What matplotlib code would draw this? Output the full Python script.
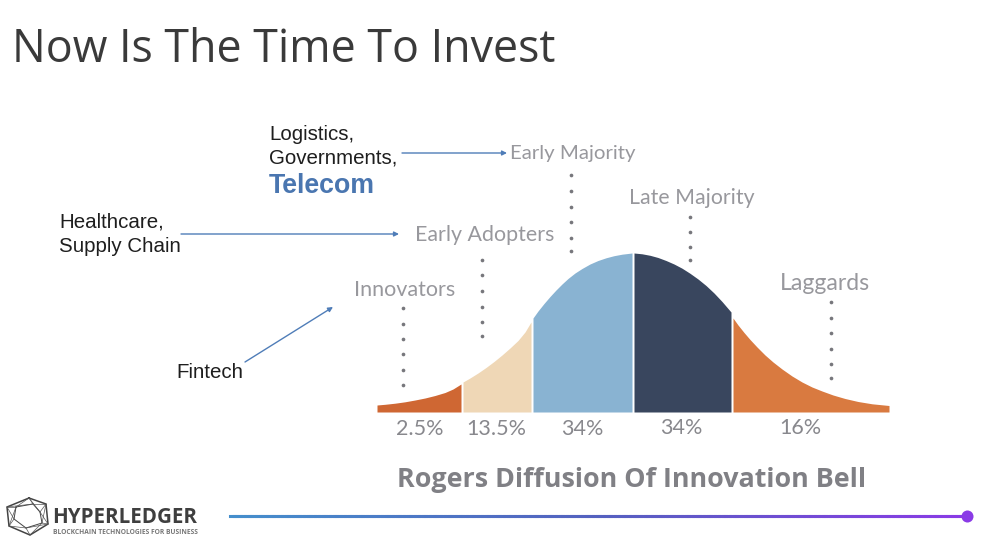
import matplotlib
matplotlib.use("Agg")
import matplotlib.pyplot as plt
import numpy as np
from matplotlib.collections import LineCollection
from matplotlib.patches import FancyArrowPatch

TITLE = "Now Is The Time To Invest"
CHART_TITLE = "Rogers Diffusion Of Innovation Bell"
BASE_Y = 412

seg_x = [
    [377, 385, 395, 405, 415, 425, 435, 445, 453, 461],
    [463, 470, 478, 486, 494, 502, 510, 518, 525, 531],
    [533, 538, 544, 550, 556, 562, 568, 575, 582, 590, 598, 606, 614, 622, 632],
    [634, 642, 650, 658, 666, 674, 682, 690, 698, 706, 714, 722, 731],
    [733, 738, 744, 750, 757, 765, 773, 782, 792, 802, 812, 822, 833, 845, 858, 872, 889],
]
seg_y = [
    [405, 404.3, 403.2, 401.8, 400, 398, 395.5, 392.5, 389, 384],
    [382, 378, 373, 367.5, 361.5, 355, 348, 340.5, 332, 322],
    [318, 311, 303.5, 296.5, 290, 284, 278.5, 273, 268.5, 264, 260.5, 257.8, 255.7, 254.2, 253],
    [253, 253.8, 255.3, 257.5, 260.5, 264, 268.2, 273.3, 279, 285.5, 293, 301.5, 312],
    [318, 325, 332.5, 339.5, 347, 355, 362, 369, 376, 382, 387, 391, 395, 398.5, 401.5, 403.8, 405.5],
]
seg_colors = ["#CF6733", "#EFD7B6", "#89B3D2", "#39465E", "#D97A40"]

pct_labels = ["2.5%", "13.5%", "34%", "34%", "16%"]
pct_x = [420, 496, 582, 681, 800]
pct_y = [429, 429, 429, 428, 428]

stage_labels = ["Innovators", "Early Adopters", "Early Majority", "Late Majority", "Laggards"]
stage_x = [405, 485, 573, 692, 825]
stage_y = [290, 235, 153, 198, 283]
stage_size = [15.5, 15.4, 14.7, 15.3, 16.6]

dot_x = [403, 482, 571, 690, 831]
dot_y = [
    [308, 324, 339, 354, 370, 385],
    [260, 275, 291, 307, 322, 336],
    [175, 191, 207, 222, 238, 251],
    [217, 232, 247, 260],
    [302, 318, 333, 349, 364, 378],
]

hex_x = [29, 46, 48, 30, 9, 7, 29]
hex_y = [498, 504, 524, 535, 526, 507, 498]
hex_in_x = [16, 33, 40, 42, 26, 14, 16]
hex_in_y = [507, 504, 512, 523, 528, 519, 507]

fig = plt.figure(figsize=(9.92, 5.46), dpi=100)
ax = fig.add_axes([0, 0, 1, 1])
ax.set_xlim(0, 992)
ax.set_ylim(546, 0)
ax.axis("off")

ax.text(12, 50, TITLE, fontsize=32.2, family="Open Sans", color="#3A3A3A", va="center", ha="left")

for xs, ys, c in zip(seg_x, seg_y, seg_colors):
    ax.fill_between(xs, ys, BASE_Y, color=c, linewidth=0)

for s, x, y, fs in zip(stage_labels, stage_x, stage_y, stage_size):
    ax.text(x, y, s, fontsize=fs, family="Lato", fontweight="normal", color="#98989D", ha="center", va="center")
for xd, ys in zip(dot_x, dot_y):
    ax.scatter([xd] * len(ys), ys, s=7, color="#77777C", linewidths=0)
for s, x, y in zip(pct_labels, pct_x, pct_y):
    ax.text(x, y, s, fontsize=15.5, family="Lato", fontweight="normal", color="#88888D", ha="center", va="center")
ax.text(632, 480, CHART_TITLE, fontsize=19.4, family="Open Sans", fontweight="bold",
        color="#808085", ha="center", va="center")

black = "#1E1E1E"
sans = "Liberation Sans"
ax.text(269, 134, "Logistics,", fontsize=14.8, family=sans, color=black, va="center")
ax.text(269, 158, "Governments,", fontsize=14.8, family=sans, color=black, va="center")
ax.text(269, 186, "Telecom", fontsize=19.3, family=sans, fontweight="bold", color="#4A76B0", va="center")
ax.text(59, 222, "Healthcare,", fontsize=14.8, family=sans, color=black, va="center")
ax.text(59, 247, "Supply Chain", fontsize=14.8, family=sans, color=black, va="center")
ax.text(176, 373, "Fintech", fontsize=14.8, family=sans, color=black, va="center")

for a, b in [((402, 153), (507, 153)), ((181, 234), (399, 234)), ((245, 362), (333, 307))]:
    ax.add_patch(FancyArrowPatch(a, b, arrowstyle="-|>", mutation_scale=7,
                                 color="#4F7DB8", lw=1, shrinkA=0, shrinkB=0))

# footer rule
xs = np.linspace(230, 967, 200)
pts = np.column_stack([xs, np.full_like(xs, 516)])
segs = np.stack([pts[:-1], pts[1:]], axis=1)
c0, c1, c2 = np.array([0.27, 0.56, 0.80]), np.array([0.33, 0.38, 0.75]), np.array([0.54, 0.23, 0.90])
t = np.linspace(0, 1, len(segs))[:, None]
cols = np.where(t < 0.5, c0 + (c1 - c0) * t * 2, c1 + (c2 - c1) * (t - 0.5) * 2)
ax.add_collection(LineCollection(segs, colors=cols, linewidths=2.2, capstyle="projecting"))
ax.scatter([967], [516], s=75, color="#8A3BE6", linewidths=0, zorder=3)

# logo
ax.plot(hex_x, hex_y, color="#444444", lw=1.1)
ax.plot(hex_in_x, hex_in_y, color="#444444", lw=0.7)
for hx, hy in zip(hex_x[:-1], hex_y[:-1]):
    for ix, iy in zip(hex_in_x[:-1], hex_in_y[:-1]):
        if abs(hx - ix) + abs(hy - iy) < 30:
            ax.plot([hx, ix], [hy, iy], color="#555555", lw=0.5)
ax.text(52, 517.5, "HYPERLEDGER", fontsize=14.8, family="Open Sans", fontweight="bold", color="#3F3F3F", va="center")
ax.text(53, 533, "BLOCKCHAIN TECHNOLOGIES FOR BUSINESS", fontsize=4.8, family="Open Sans",
        fontweight="bold", color="#777777", va="center")

fig.savefig("out.png", dpi=100)
